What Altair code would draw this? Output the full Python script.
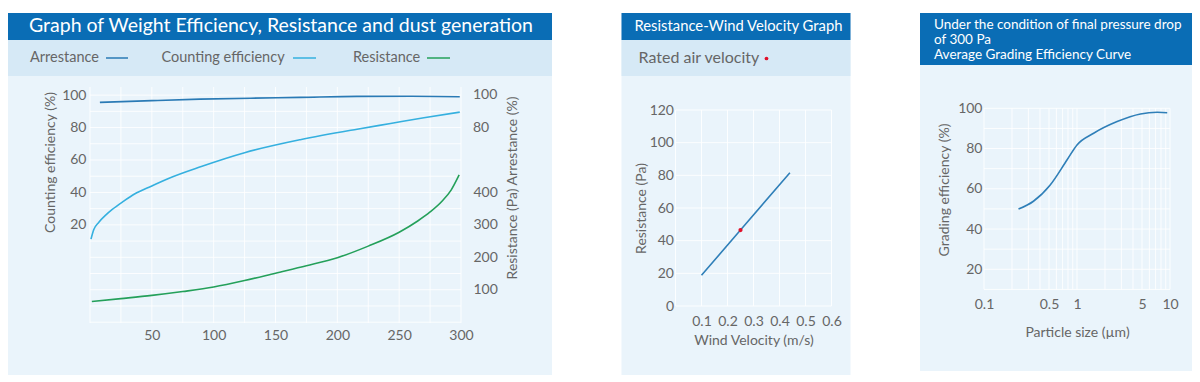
import altair as alt
import pandas as pd

FONT = "Lato"
HEADER = "#0a6db5"
BAND = "#d6e9f6"
BODY = "#eaf4fb"
C_ARR = "#2a7ab5"
C_CNT = "#35b0df"
C_RES = "#24a05a"
C_LINE = "#2f7fb8"
C_DOT = "#e0102a"
TXT = "#666666"
GRID = "#ffffff"

# ---------------- data ----------------
# Panel 1: weight efficiency / resistance vs dust load
arr_x = [8, 50, 89, 130, 170, 216, 260, 299]
arr_y = [95.5, 96.6, 97.5, 98.1, 98.6, 99.2, 99.3, 99.0]
cnt_x = [0.8, 3, 7, 12, 18, 27, 36, 50, 63, 90, 125, 170, 216, 243, 270, 299]
cnt_y = [11.2, 17, 21.5, 25.5, 29.5, 34.5, 39, 44, 48.5, 56, 64.5, 72.5, 79, 82.5, 86, 89.5]
res_x = [1.5, 25, 50, 75, 100, 125, 150, 175, 200, 225, 250, 265, 275, 285, 292, 298.5]
res_y = [62, 71, 81, 93, 107, 127, 150, 173, 198, 234, 277, 312, 340, 375, 408, 455]
arr_tick_vals = [100, 80]
arr_tick_text = ["100", "80"]
p1_xgrid = [0, 25, 50, 75, 100, 125, 150, 175, 200, 225, 250, 275, 300]
p1_ygrid = [-40, -30, -20, -10, 0, 10, 20, 30, 40, 50, 60, 70, 80, 90, 100]

# Panel 2: resistance vs wind velocity
wind_v = [0.1, 0.25, 0.44]
wind_r = [18.8, 46.5, 81.6]
rated_v = [0.25]
rated_r = [46.5]
p2_xticks = [0, 0.1, 0.2, 0.3, 0.4, 0.5, 0.6]
p2_yticks = [0, 20, 40, 60, 80, 100, 120]

# Panel 3: grading efficiency vs particle size
size_um = [0.235, 0.34, 0.515, 0.78, 1.0, 1.51, 2.7, 4.81, 7.28, 9.33]
grade_eff = [49.9, 53.8, 61.9, 74.3, 81.8, 87.6, 93.4, 97.2, 98.0, 97.8]
p3_xgrid = [0.1, 0.2, 0.3, 0.4, 0.5, 0.6, 0.7, 0.8, 0.9, 1, 2, 3, 4, 5, 6, 7, 8, 9, 10]
p3_xlabels = [0.1, 0.5, 1, 5, 10]
p3_ygrid = [10, 20, 30, 40, 50, 60, 70, 80, 90, 100]

# ---------------- helpers ----------------
def one():
    return alt.Data(values=[{}])

def deco_rect(x1, x2, y1, y2, color):
    return alt.Chart(one()).mark_rect(color=color).encode(
        x=alt.value(x1), x2=alt.value(x2), y=alt.value(y1), y2=alt.value(y2))

def deco_text(text, x, y, size, color, baseline="middle", line_height=None):
    kw = dict(text=text, align="left", baseline=baseline, font=FONT,
              fontSize=size, color=color)
    if line_height is not None:
        kw["lineHeight"] = line_height
    return alt.Chart(one()).mark_text(**kw).encode(x=alt.value(x), y=alt.value(y))

def deco_rule(x1, x2, y, color):
    return alt.Chart(one()).mark_rule(color=color, strokeWidth=1.5).encode(
        x=alt.value(x1), x2=alt.value(x2), y=alt.value(y))

def vgrid(vals, field, xenc, top, bottom):
    return alt.Chart(pd.DataFrame({field: vals})).mark_rule(
        color=GRID, opacity=0.85, strokeWidth=1).encode(
        x=xenc, y=alt.value(top), y2=alt.value(bottom))

def hgrid(vals, field, yenc, width):
    return alt.Chart(pd.DataFrame({field: vals})).mark_rule(
        color=GRID, opacity=0.85, strokeWidth=1).encode(
        y=yenc, x=alt.value(0), x2=alt.value(width))

# ---------------- panel 1 ----------------
# local origin = top-left of the panel header row (page y = 13)
W1, H1, T1 = 371, 310, 74
x1 = alt.X("x:Q", scale=alt.Scale(domain=[0, 300], nice=False, zero=False),
           axis=alt.Axis(values=[50, 100, 150, 200, 250, 300],
                         title=None, labelPadding=5, grid=False, orient="bottom", zindex=1))
yL = alt.Y("y:Q", scale=alt.Scale(domain=[-40.5, 105], range=[H1, T1], nice=False, zero=False),
           axis=alt.Axis(orient="left", values=[20, 40, 60, 80, 100],
                         title="Counting efficiency (%)", titleX=-40, titleY=149,
                         titleAngle=270, titleAlign="center", titleBaseline="middle",
                         labelPadding=4, grid=False, zindex=1))
yR = alt.Y("y:Q", scale=alt.Scale(domain=[-4.7, 728], range=[H1, T1], nice=False, zero=False),
           axis=alt.Axis(orient="right", values=[100, 200, 300, 400],
                         title="Resistance (Pa)  Arrestance (%)", titleX=51, titleY=174.5,
                         titleAngle=270, titleAlign="center", titleBaseline="middle",
                         labelPadding=12, grid=False, zindex=1))

df_arr = pd.DataFrame({"x": arr_x, "y": arr_y})
df_cnt = pd.DataFrame({"x": cnt_x, "y": cnt_y})
df_res = pd.DataFrame({"x": res_x, "y": res_y})
df_at = pd.DataFrame({"y": arr_tick_vals, "t": arr_tick_text})

arr_line = alt.Chart(df_arr).mark_line(color=C_ARR, strokeWidth=1.6, interpolate="monotone").encode(x=x1, y=yL)
cnt_line = alt.Chart(df_cnt).mark_line(color=C_CNT, strokeWidth=1.6, interpolate="monotone").encode(x=x1, y=yL)
arr_lbl = alt.Chart(df_at).mark_text(align="left", baseline="middle", font=FONT,
                                     fontSize=14, color=TXT).encode(
    x=alt.value(W1 + 12), y=yL, text="t:N")
res_line = alt.Chart(df_res).mark_line(color=C_RES, strokeWidth=1.6, interpolate="monotone").encode(x=x1, y=yR)

p1 = alt.layer(
    deco_rect(-82, 462, 0, 362, BODY),
    deco_rect(-82, 462, 27, 63, BAND),
    deco_rect(-82, 462, 0, 27, HEADER),
    deco_text("Graph of Weight Efficiency, Resistance and dust generation", -61, 12.5, 19.5, "#ffffff"),
    deco_text("Arrestance", -60, 45, 14.5, TXT),
    deco_rule(16, 38, 45, C_ARR),
    deco_text("Counting efficiency", 71.5, 45, 14.5, TXT),
    deco_rule(203, 226, 45, C_CNT),
    deco_text("Resistance", 263, 45, 14.5, TXT),
    deco_rule(337, 360, 45, C_RES),
    alt.layer(
        vgrid(p1_xgrid, "x", x1, T1, H1),
        hgrid(p1_ygrid, "y", yL, W1),
        arr_line, cnt_line, arr_lbl),
    res_line,
).resolve_scale(y="independent").properties(width=W1, height=H1)

# ---------------- panel 2 ----------------
W2, H2, T2 = 156, 293, 97
x2 = alt.X("v:Q", scale=alt.Scale(domain=[0, 0.6], nice=False, zero=False),
           axis=alt.Axis(values=[0.1, 0.2, 0.3, 0.4, 0.5, 0.6], format=".1f",
                         title="Wind Velocity (m/s)", titleY=34, titleBaseline="middle",
                         labelPadding=8, grid=False, zindex=1))
y2 = alt.Y("r:Q", scale=alt.Scale(domain=[0, 120], range=[H2, T2], nice=False),
           axis=alt.Axis(values=p2_yticks, title="Resistance (Pa)",
                         titleX=-34, titleY=195, titleAngle=270, titleAlign="center",
                         titleBaseline="middle", labelPadding=2, grid=False, zindex=1))
df_w = pd.DataFrame({"v": wind_v, "r": wind_r})
df_rated = pd.DataFrame({"v": rated_v, "r": rated_r})

p2 = alt.layer(
    deco_rect(-54, 175, 0, 362, BODY),
    deco_rect(-54, 175, 27, 63, BAND),
    deco_rect(-54, 175, 0, 27, HEADER),
    deco_text("Resistance-Wind Velocity Graph", -41, 13.5, 14.8, "#ffffff"),
    deco_text("Rated air velocity", -37, 44.7, 16, TXT),
    alt.Chart(one()).mark_circle(color=C_DOT, size=14, opacity=1).encode(x=alt.value(91), y=alt.value(45.5)),
    vgrid(p2_xticks, "v", x2, T2, H2),
    hgrid(p2_yticks, "r", y2, W2),
    alt.Chart(df_w).mark_line(color=C_LINE, strokeWidth=1.6).encode(x=x2, y=y2),
    alt.Chart(df_rated).mark_circle(color=C_DOT, size=18, opacity=1).encode(x=x2, y=y2),
).properties(width=W2, height=H2)

# ---------------- panel 3 ----------------
W3, H3, T3 = 186, 276.4, 95.3
x3 = alt.X("s:Q", scale=alt.Scale(type="log", domain=[0.1, 10], nice=False),
           axis=alt.Axis(values=p3_xlabels, format="~g",
                         title="Particle size (µm)", titleY=43, titleBaseline="middle",
                         labelPadding=8, grid=False, zindex=1))
y3 = alt.Y("e:Q", scale=alt.Scale(domain=[10, 100], range=[H3, T3], nice=False, zero=False),
           axis=alt.Axis(values=[20, 40, 60, 80, 100],
                         title="Grading efficiency (%)", titleX=-40, titleY=176.5,
                         titleAngle=270, titleAlign="center", titleBaseline="middle",
                         labelPadding=2, grid=False, zindex=1))
df_g = pd.DataFrame({"s": size_um, "e": grade_eff})

p3 = alt.layer(
    deco_rect(-64, 208, 0, 358, BODY),
    deco_rect(-64, 208, 0, 52, HEADER),
    deco_text(["Under the condition of final pressure drop", "of 300 Pa",
               "Average Grading Efficiency Curve"], -50, 15.8, 13.5, "#ffffff",
              baseline="alphabetic", line_height=15),
    vgrid(p3_xgrid, "s", x3, T3, H3),
    hgrid(p3_ygrid, "e", y3, W3),
    alt.Chart(df_g).mark_line(color=C_LINE, strokeWidth=1.6, interpolate="monotone").encode(x=x3, y=y3),
).properties(width=W3, height=H3)

chart = alt.hconcat(p1, p2, p3, spacing=69.5).properties(
    padding={"left": 0, "top": 5, "right": 0, "bottom": 0},
    background="#ffffff",
).configure_view(stroke=None).configure_axis(
    labelFont=FONT, titleFont=FONT, labelFontSize=14, titleFontSize=14,
    labelColor=TXT, titleColor=TXT, titleFontWeight="normal",
    domain=False, ticks=False, grid=False,
    labelOverlap=False, labelFlush=False,
)

chart.save("out.html", embed_options={"renderer": "svg", "actions": False})
